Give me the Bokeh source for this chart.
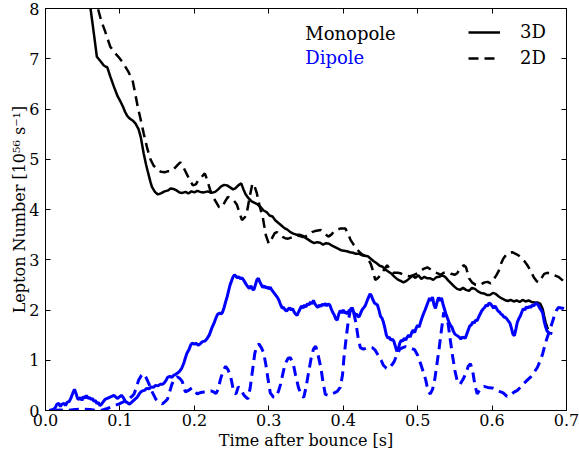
from bokeh.plotting import figure
from bokeh.models import (LinearAxis, FixedTicker, PrintfTickFormatter, Legend,
                          LegendItem, Label, Range1d, CustomJSTickFormatter)
from bokeh.embed import file_html
from bokeh.resources import INLINE

# ---------------- data ----------------
t_mono3d = [0.058, 0.0605, 0.065, 0.069, 0.074, 0.078, 0.081, 0.083, 0.087, 0.092, 0.097, 0.101, 0.104, 0.107,
            0.110, 0.114, 0.118, 0.121, 0.125, 0.128, 0.132, 0.135, 0.137, 0.141, 0.143, 0.147, 0.151, 0.155,
            0.160, 0.165, 0.168, 0.172, 0.176, 0.180, 0.184, 0.188, 0.192, 0.196, 0.200, 0.204, 0.208, 0.213,
            0.218, 0.223, 0.228, 0.232, 0.236, 0.240, 0.244, 0.248, 0.252, 0.255, 0.259, 0.263, 0.266, 0.269,
            0.273, 0.277, 0.281, 0.285, 0.289, 0.293, 0.297, 0.301, 0.305, 0.309, 0.313, 0.317, 0.321, 0.325,
            0.329, 0.333, 0.337, 0.341, 0.345, 0.349, 0.353, 0.357, 0.361, 0.365, 0.369, 0.373, 0.377, 0.381,
            0.385, 0.389, 0.393, 0.397, 0.401, 0.405, 0.409, 0.413, 0.417, 0.421, 0.425, 0.429, 0.433, 0.437,
            0.441, 0.445, 0.449, 0.453, 0.457, 0.461, 0.465, 0.469, 0.473, 0.477, 0.481, 0.485, 0.489, 0.493,
            0.497, 0.501, 0.505, 0.509, 0.513, 0.517, 0.521, 0.525, 0.529, 0.533, 0.537, 0.541, 0.545, 0.549,
            0.553, 0.557, 0.561, 0.565, 0.569, 0.573, 0.577, 0.581, 0.585, 0.589, 0.593, 0.597, 0.601, 0.605,
            0.609, 0.613, 0.617, 0.621, 0.625, 0.629, 0.633, 0.637, 0.641, 0.645, 0.649, 0.653, 0.657, 0.661,
            0.665, 0.668, 0.670, 0.672, 0.675]
v_mono3d = [8.30, 8.00, 7.50, 7.04, 6.95, 6.87, 6.84, 6.83, 6.65, 6.44, 6.25, 6.14, 6.05, 5.94,
            5.86, 5.80, 5.76, 5.71, 5.60, 5.44, 5.11, 4.90, 4.78, 4.55, 4.45, 4.35, 4.30, 4.32,
            4.36, 4.38, 4.42, 4.41, 4.38, 4.34, 4.33, 4.35, 4.32, 4.36, 4.34, 4.37, 4.35, 4.34,
            4.36, 4.33, 4.35, 4.40, 4.46, 4.49, 4.48, 4.44, 4.40, 4.42, 4.48, 4.52, 4.40, 4.30,
            4.22, 4.16, 4.13, 4.10, 4.05, 3.98, 3.95, 3.88, 3.86, 3.78, 3.73, 3.68, 3.63, 3.60,
            3.55, 3.52, 3.50, 3.50, 3.48, 3.44, 3.40, 3.36, 3.33, 3.35, 3.34, 3.30, 3.33, 3.32,
            3.28, 3.25, 3.22, 3.19, 3.18, 3.17, 3.15, 3.14, 3.12, 3.12, 3.09, 3.08, 3.07, 3.02,
            2.97, 2.93, 2.88, 2.86, 2.80, 2.76, 2.72, 2.66, 2.61, 2.58, 2.55, 2.58, 2.63, 2.68,
            2.64, 2.69, 2.62, 2.66, 2.63, 2.63, 2.60, 2.65, 2.66, 2.69, 2.66, 2.59, 2.53, 2.47,
            2.42, 2.40, 2.44, 2.40, 2.38, 2.44, 2.42, 2.37, 2.34, 2.33, 2.30, 2.30, 2.34, 2.32,
            2.27, 2.23, 2.20, 2.18, 2.20, 2.17, 2.19, 2.16, 2.20, 2.17, 2.19, 2.16, 2.15, 2.15,
            2.12, 2.02, 1.88, 1.75, 1.62]

t_mono2d = [0.068, 0.071, 0.075, 0.080, 0.087, 0.093, 0.099, 0.105, 0.111, 0.117, 0.120, 0.124, 0.128, 0.132,
            0.137, 0.141, 0.145, 0.150, 0.155, 0.160, 0.164, 0.168, 0.172, 0.177, 0.181, 0.185, 0.190, 0.194,
            0.198, 0.202, 0.206, 0.210, 0.214, 0.217, 0.221, 0.225, 0.229, 0.233, 0.237, 0.241, 0.245, 0.249,
            0.253, 0.257, 0.261, 0.264, 0.268, 0.271, 0.275, 0.278, 0.281, 0.284, 0.288, 0.292, 0.296, 0.300,
            0.304, 0.308, 0.311, 0.315, 0.319, 0.322, 0.326, 0.330, 0.334, 0.338, 0.342, 0.346, 0.350, 0.354,
            0.358, 0.362, 0.366, 0.370, 0.375, 0.380, 0.384, 0.388, 0.392, 0.396, 0.400, 0.403, 0.407, 0.410,
            0.414, 0.418, 0.422, 0.426, 0.430, 0.434, 0.437, 0.440, 0.443, 0.446, 0.450, 0.454, 0.459, 0.463,
            0.467, 0.473, 0.477, 0.481, 0.485, 0.489, 0.494, 0.498, 0.503, 0.508, 0.513, 0.518, 0.523, 0.527,
            0.531, 0.535, 0.540, 0.545, 0.550, 0.553, 0.557, 0.562, 0.565, 0.569, 0.573, 0.578, 0.582, 0.586,
            0.590, 0.594, 0.598, 0.602, 0.606, 0.609, 0.612, 0.615, 0.619, 0.623, 0.627, 0.631, 0.635, 0.639,
            0.643, 0.647, 0.652, 0.656, 0.660, 0.663, 0.667, 0.670, 0.674, 0.679, 0.684, 0.689, 0.694, 0.700]
v_mono2d = [8.30, 7.97, 7.75, 7.55, 7.24, 7.12, 7.02, 6.90, 6.75, 6.57, 6.35, 6.04, 5.78, 5.51,
            5.20, 5.00, 4.88, 4.80, 4.75, 4.74, 4.76, 4.76, 4.80, 4.88, 4.94, 4.85, 4.70, 4.58,
            4.48, 4.50, 4.60, 4.65, 4.72, 4.60, 4.40, 4.25, 4.15, 4.05, 4.04, 4.15, 4.25, 4.22,
            4.18, 4.10, 3.92, 3.79, 3.85, 3.98, 4.30, 4.52, 4.46, 4.32, 4.05, 3.84, 3.49, 3.32,
            3.42, 3.53, 3.55, 3.50, 3.45, 3.43, 3.42, 3.44, 3.46, 3.48, 3.47, 3.45, 3.47, 3.50,
            3.55, 3.57, 3.58, 3.59, 3.52, 3.46, 3.50, 3.57, 3.60, 3.62, 3.62, 3.62, 3.50, 3.39,
            3.30, 3.22, 3.15, 3.10, 3.07, 3.00, 2.92, 2.78, 2.60, 2.63, 2.69, 2.78, 2.89, 2.80,
            2.74, 2.74, 2.73, 2.70, 2.68, 2.67, 2.69, 2.72, 2.76, 2.82, 2.85, 2.80, 2.75, 2.73,
            2.70, 2.74, 2.75, 2.72, 2.70, 2.73, 2.82, 2.89, 2.85, 2.63, 2.55, 2.50, 2.49, 2.52,
            2.55, 2.56, 2.53, 2.60, 2.70, 2.78, 2.92, 3.02, 3.10, 3.14, 3.15, 3.12, 3.09, 3.05,
            2.98, 2.90, 2.78, 2.65, 2.57, 2.55, 2.65, 2.72, 2.74, 2.72, 2.69, 2.66, 2.60, 2.52]

t_dip3d = [0.005, 0.010, 0.013, 0.015, 0.018, 0.020, 0.022, 0.025, 0.027, 0.029, 0.032, 0.034, 0.037, 0.039,
           0.041, 0.043, 0.045, 0.047, 0.049, 0.051, 0.053, 0.055, 0.057, 0.059, 0.061, 0.063, 0.065, 0.067,
           0.069, 0.071, 0.073, 0.075, 0.077, 0.080, 0.083, 0.086, 0.089, 0.092, 0.095, 0.097, 0.099, 0.102,
           0.104, 0.106, 0.108, 0.110, 0.112, 0.114, 0.117, 0.120, 0.123, 0.126, 0.128, 0.130, 0.133, 0.136,
           0.139, 0.142, 0.145, 0.148, 0.151, 0.154, 0.157, 0.159, 0.162, 0.164, 0.167, 0.170, 0.172, 0.175,
           0.177, 0.180, 0.183, 0.186, 0.188, 0.190, 0.193, 0.195, 0.197, 0.200, 0.202, 0.205, 0.208, 0.211,
           0.214, 0.217, 0.220, 0.222, 0.224, 0.227, 0.229, 0.231, 0.234, 0.236, 0.238, 0.240, 0.242, 0.244,
           0.246, 0.248, 0.250, 0.252, 0.254, 0.256, 0.258, 0.260, 0.262, 0.264, 0.266, 0.268, 0.270, 0.272,
           0.274, 0.276, 0.278, 0.280, 0.282, 0.284, 0.286, 0.288, 0.290, 0.292, 0.294, 0.296, 0.298, 0.300,
           0.302, 0.304, 0.306, 0.308, 0.310, 0.312, 0.314, 0.316, 0.318, 0.320, 0.322, 0.324, 0.326, 0.328,
           0.330, 0.332, 0.334, 0.336, 0.338, 0.340, 0.342, 0.344, 0.346, 0.348, 0.350, 0.352, 0.354, 0.356,
           0.358, 0.360, 0.362, 0.364, 0.366, 0.368, 0.370, 0.372, 0.374, 0.376, 0.378, 0.380, 0.382, 0.384,
           0.386, 0.388, 0.390, 0.392, 0.394, 0.396, 0.398, 0.400, 0.402, 0.404, 0.406, 0.408, 0.410, 0.412,
           0.414, 0.416, 0.418, 0.420, 0.422, 0.424, 0.426, 0.428, 0.430, 0.432, 0.434, 0.436, 0.438, 0.440,
           0.442, 0.444, 0.446, 0.448, 0.450, 0.452, 0.454, 0.456, 0.458, 0.460, 0.462, 0.464, 0.466, 0.468,
           0.470, 0.472, 0.474, 0.476, 0.478, 0.480, 0.482, 0.484, 0.486, 0.488, 0.490, 0.492, 0.494, 0.496,
           0.498, 0.500, 0.502, 0.504, 0.506, 0.508, 0.510, 0.512, 0.514, 0.516, 0.518, 0.520, 0.522, 0.524,
           0.526, 0.528, 0.530, 0.532, 0.534, 0.536, 0.538, 0.540, 0.542, 0.544, 0.546, 0.548, 0.550, 0.552,
           0.554, 0.556, 0.558, 0.560, 0.562, 0.564, 0.566, 0.568, 0.570, 0.572, 0.574, 0.576, 0.578, 0.580,
           0.582, 0.584, 0.586, 0.588, 0.590, 0.592, 0.594, 0.596, 0.598, 0.600, 0.602, 0.604, 0.606, 0.608,
           0.610, 0.612, 0.614, 0.616, 0.618, 0.620, 0.622, 0.624, 0.626, 0.628, 0.630, 0.632, 0.634, 0.636,
           0.638, 0.640, 0.642, 0.644, 0.646, 0.648, 0.650, 0.652, 0.654, 0.656, 0.658, 0.660, 0.662, 0.664,
           0.666, 0.668, 0.670, 0.672, 0.674, 0.676, 0.678, 0.681]
v_dip3d = [0.00, 0.02, 0.05, 0.12, 0.14, 0.08, 0.12, 0.14, 0.10, 0.16, 0.18, 0.24, 0.36, 0.42,
           0.34, 0.24, 0.22, 0.26, 0.20, 0.28, 0.24, 0.30, 0.24, 0.26, 0.22, 0.24, 0.18, 0.20,
           0.14, 0.16, 0.10, 0.12, 0.16, 0.22, 0.24, 0.26, 0.28, 0.30, 0.26, 0.24, 0.27, 0.30,
           0.27, 0.22, 0.17, 0.16, 0.13, 0.14, 0.18, 0.22, 0.26, 0.33, 0.37, 0.39, 0.40, 0.44,
           0.43, 0.47, 0.46, 0.50, 0.49, 0.52, 0.52, 0.54, 0.60, 0.66, 0.68, 0.66, 0.70, 0.72,
           0.74, 0.78, 0.84, 0.95, 1.05, 1.14, 1.22, 1.30, 1.34, 1.32, 1.34, 1.30, 1.33, 1.37,
           1.38, 1.43, 1.50, 1.58, 1.66, 1.76, 1.84, 1.91, 1.94, 1.92, 1.96, 2.05, 2.16, 2.26,
           2.38, 2.50, 2.58, 2.66, 2.70, 2.67, 2.64, 2.66, 2.62, 2.64, 2.60, 2.55, 2.50, 2.46,
           2.43, 2.48, 2.42, 2.40, 2.50, 2.60, 2.63, 2.56, 2.50, 2.45, 2.48, 2.44, 2.46, 2.42,
           2.45, 2.40, 2.36, 2.32, 2.28, 2.24, 2.18, 2.10, 2.04, 2.05, 2.00, 1.98, 2.02, 2.04,
           2.00, 2.03, 1.96, 1.92, 1.89, 1.96, 2.02, 2.08, 2.04, 2.10, 2.06, 2.13, 2.10, 2.16,
           2.12, 2.19, 2.12, 2.08, 2.05, 2.10, 2.07, 2.12, 2.09, 2.13, 2.08, 2.12, 2.10, 2.02,
           1.95, 1.90, 1.82, 1.80, 1.92, 1.99, 1.94, 2.00, 1.94, 1.96, 1.92, 2.00, 1.98, 2.05,
           1.96, 1.90, 1.92, 1.86, 1.88, 1.96, 2.02, 2.05, 2.10, 2.18, 2.25, 2.32, 2.28, 2.20,
           2.14, 2.12, 2.10, 2.00, 1.88, 1.84, 1.76, 1.64, 1.50, 1.44, 1.46, 1.40, 1.42, 1.38,
           1.28, 1.18, 1.22, 1.34, 1.40, 1.38, 1.44, 1.40, 1.46, 1.50, 1.46, 1.55, 1.60, 1.55,
           1.64, 1.70, 1.66, 1.76, 1.85, 1.93, 2.00, 2.08, 2.16, 2.24, 2.18, 2.26, 2.10, 2.03,
           2.15, 2.25, 2.18, 2.24, 2.12, 2.02, 1.92, 1.84, 1.76, 1.70, 1.66, 1.58, 1.52, 1.50,
           1.48, 1.46, 1.42, 1.46, 1.45, 1.44, 1.52, 1.60, 1.68, 1.70, 1.76, 1.74, 1.80, 1.79,
           1.86, 1.92, 1.98, 2.02, 2.05, 2.10, 2.08, 2.14, 2.12, 2.08, 2.04, 2.08, 2.03, 1.98,
           1.96, 1.92, 1.90, 1.86, 1.85, 1.82, 1.78, 1.74, 1.64, 1.52, 1.49, 1.62, 1.76, 1.83,
           1.88, 1.96, 2.03, 2.00, 2.06, 2.04, 2.07, 2.05, 2.10, 2.08, 2.12, 2.13, 2.10, 2.04,
           2.00, 1.94, 1.78, 1.66, 1.58, 1.55, 1.54, 1.53]

t_dip2d = [0.010, 0.020, 0.030, 0.040, 0.050, 0.060, 0.070, 0.077, 0.083, 0.090, 0.099, 0.106, 0.112, 0.116,
           0.119, 0.122, 0.125, 0.129, 0.132, 0.135, 0.139, 0.143, 0.148, 0.153, 0.157, 0.161, 0.164, 0.167,
           0.170, 0.174, 0.177, 0.181, 0.184, 0.186, 0.188, 0.192, 0.197, 0.201, 0.204, 0.209, 0.213, 0.218,
           0.222, 0.226, 0.229, 0.232, 0.235, 0.239, 0.242, 0.245, 0.249, 0.253, 0.256, 0.259, 0.262, 0.266,
           0.269, 0.272, 0.275, 0.278, 0.281, 0.284, 0.287, 0.290, 0.293, 0.296, 0.299, 0.302, 0.306, 0.309,
           0.313, 0.316, 0.319, 0.322, 0.326, 0.329, 0.333, 0.336, 0.340, 0.344, 0.347, 0.350, 0.354, 0.357,
           0.360, 0.363, 0.366, 0.370, 0.373, 0.376, 0.380, 0.384, 0.388, 0.392, 0.396, 0.399, 0.401, 0.404,
           0.407, 0.410, 0.412, 0.414, 0.417, 0.420, 0.423, 0.427, 0.431, 0.435, 0.439, 0.443, 0.447, 0.451,
           0.454, 0.458, 0.461, 0.464, 0.468, 0.472, 0.476, 0.480, 0.484, 0.488, 0.492, 0.496, 0.500, 0.504,
           0.508, 0.511, 0.514, 0.517, 0.520, 0.523, 0.526, 0.529, 0.532, 0.535, 0.538, 0.541, 0.544, 0.547,
           0.550, 0.553, 0.557, 0.561, 0.565, 0.568, 0.571, 0.574, 0.577, 0.580, 0.584, 0.589, 0.594, 0.600,
           0.605, 0.610, 0.615, 0.620, 0.624, 0.629, 0.634, 0.638, 0.642, 0.647, 0.652, 0.656, 0.661, 0.665,
           0.668, 0.671, 0.674, 0.678, 0.683, 0.686, 0.689, 0.693, 0.696, 0.700]
v_dip2d = [0.00, 0.01, 0.00, 0.02, 0.03, 0.02, 0.00, 0.01, 0.04, 0.08, 0.13, 0.18, 0.23, 0.28,
           0.33, 0.45, 0.60, 0.70, 0.73, 0.66, 0.53, 0.38, 0.23, 0.16, 0.13, 0.18, 0.23, 0.38,
           0.53, 0.63, 0.67, 0.63, 0.57, 0.45, 0.37, 0.40, 0.45, 0.38, 0.33, 0.36, 0.37, 0.38,
           0.39, 0.37, 0.34, 0.42, 0.62, 0.80, 0.88, 0.82, 0.66, 0.36, 0.33, 0.47, 0.44, 0.32,
           0.27, 0.23, 0.45, 0.78, 1.12, 1.30, 1.32, 1.25, 1.15, 0.92, 0.62, 0.35, 0.27, 0.26,
           0.38, 0.53, 0.74, 0.93, 1.04, 1.05, 0.92, 0.70, 0.45, 0.30, 0.26, 0.46, 0.80, 1.05,
           1.22, 1.28, 1.12, 0.85, 0.55, 0.32, 0.30, 0.33, 0.35, 0.38, 0.46, 0.70, 1.05, 1.45,
           1.80, 2.02, 2.05, 1.95, 1.75, 1.45, 1.25, 1.22, 1.24, 1.26, 1.25, 1.20, 1.10, 1.00,
           0.90, 0.84, 0.83, 0.88, 0.96, 1.10, 1.22, 1.25, 1.27, 1.25, 1.23, 1.21, 1.10, 0.93,
           0.75, 0.60, 0.38, 0.33, 0.42, 0.62, 0.93, 1.25, 1.60, 1.95, 1.90, 1.72, 1.39, 1.08,
           0.80, 0.60, 0.52, 0.62, 0.75, 0.88, 0.93, 0.78, 0.50, 0.33, 0.42, 0.48, 0.46, 0.45,
           0.42, 0.38, 0.35, 0.28, 0.30, 0.36, 0.40, 0.46, 0.53, 0.60, 0.67, 0.75, 0.86, 1.00,
           1.13, 1.30, 1.45, 1.62, 1.85, 1.98, 2.05, 2.04, 2.03, 2.00]

x_ticks = [0.0, 0.1, 0.2, 0.3, 0.4, 0.5, 0.6, 0.7]
y_ticks = [0, 1, 2, 3, 4, 5, 6, 7, 8]

BLACK = "#000000"
BLUE = "#0000ff"
FONT = "DejaVu Serif"

p = figure(width=579, height=460, frame_width=521, frame_height=402,
           x_range=Range1d(0, 0.7), y_range=Range1d(0, 8),
           output_backend="svg", toolbar_location=None,
           min_border_left=45, min_border_right=13, min_border_top=8, min_border_bottom=50)
p.xgrid.visible = False
p.ygrid.visible = False
p.outline_line_color = BLACK
p.outline_line_width = 1
p.background_fill_color = "white"
p.border_fill_color = "white"

r_m3 = p.line(t_mono3d, v_mono3d, line_color=BLACK, line_width=2.5)
r_m2 = p.line(t_mono2d, v_mono2d, line_color=BLACK, line_width=2.5, line_dash="10 6")
r_d3 = p.line(t_dip3d, v_dip3d, line_color=BLUE, line_width=3)
r_d2 = p.line(t_dip2d, v_dip2d, line_color=BLUE, line_width=3, line_dash="10 6")


def style_axis(ax):
    ax.major_tick_in = 5
    ax.major_tick_out = 0
    ax.minor_tick_in = 0
    ax.minor_tick_out = 0
    ax.axis_line_color = BLACK
    ax.major_tick_line_color = BLACK
    ax.major_label_text_font = FONT
    ax.major_label_text_font_size = "16px"
    ax.major_label_text_color = BLACK
    ax.axis_label_text_font = FONT
    ax.axis_label_text_font_size = "16px"
    ax.axis_label_text_font_style = "normal"
    ax.axis_label_text_color = BLACK


xa = p.xaxis[0]
ya = p.yaxis[0]
style_axis(xa)
style_axis(ya)
xa.ticker = FixedTicker(ticks=x_ticks)
ya.ticker = FixedTicker(ticks=y_ticks)
xa.formatter = PrintfTickFormatter(format="%.1f")
ya.formatter = PrintfTickFormatter(format="%d")
xa.axis_label = "Time after bounce [s]"
ya.axis_label = "Lepton Number [10\u2075\u2076 s\u207b\u00b9]"
xa.major_label_standoff = 3
xa.axis_label_standoff = 2
ya.major_label_standoff = 6
ya.axis_label_standoff = -3

blank = CustomJSTickFormatter(code="return ''")
top = LinearAxis(ticker=FixedTicker(ticks=x_ticks), formatter=blank,
                 major_tick_in=5, major_tick_out=0, minor_tick_in=0, minor_tick_out=0,
                 major_label_standoff=0, axis_line_color=BLACK)
right = LinearAxis(ticker=FixedTicker(ticks=y_ticks), formatter=blank,
                   major_tick_in=5, major_tick_out=0, minor_tick_in=0, minor_tick_out=0,
                   major_label_standoff=0, axis_line_color=BLACK)
p.add_layout(top, "above")
p.add_layout(right, "right")

legend = Legend(items=[LegendItem(label="3D", renderers=[r_m3]),
                       LegendItem(label="2D", renderers=[r_m2])],
                location=(423, 342), border_line_color=None, background_fill_alpha=0,
                glyph_width=32, glyph_height=20, label_height=20, spacing=5,
                label_standoff=20, padding=0, margin=0,
                label_text_font=FONT, label_text_font_size="18px", label_text_color=BLACK)
p.add_layout(legend, "center")

p.add_layout(Label(x=0.349, y=7.5, text="Monopole", text_color=BLACK, text_font=FONT,
                   text_font_size="18px", text_baseline="middle"))
p.add_layout(Label(x=0.349, y=7.02, text="Dipole", text_color=BLUE, text_font=FONT,
                   text_font_size="18px", text_baseline="middle"))

open("out.html", "w").write(file_html(p, INLINE))
